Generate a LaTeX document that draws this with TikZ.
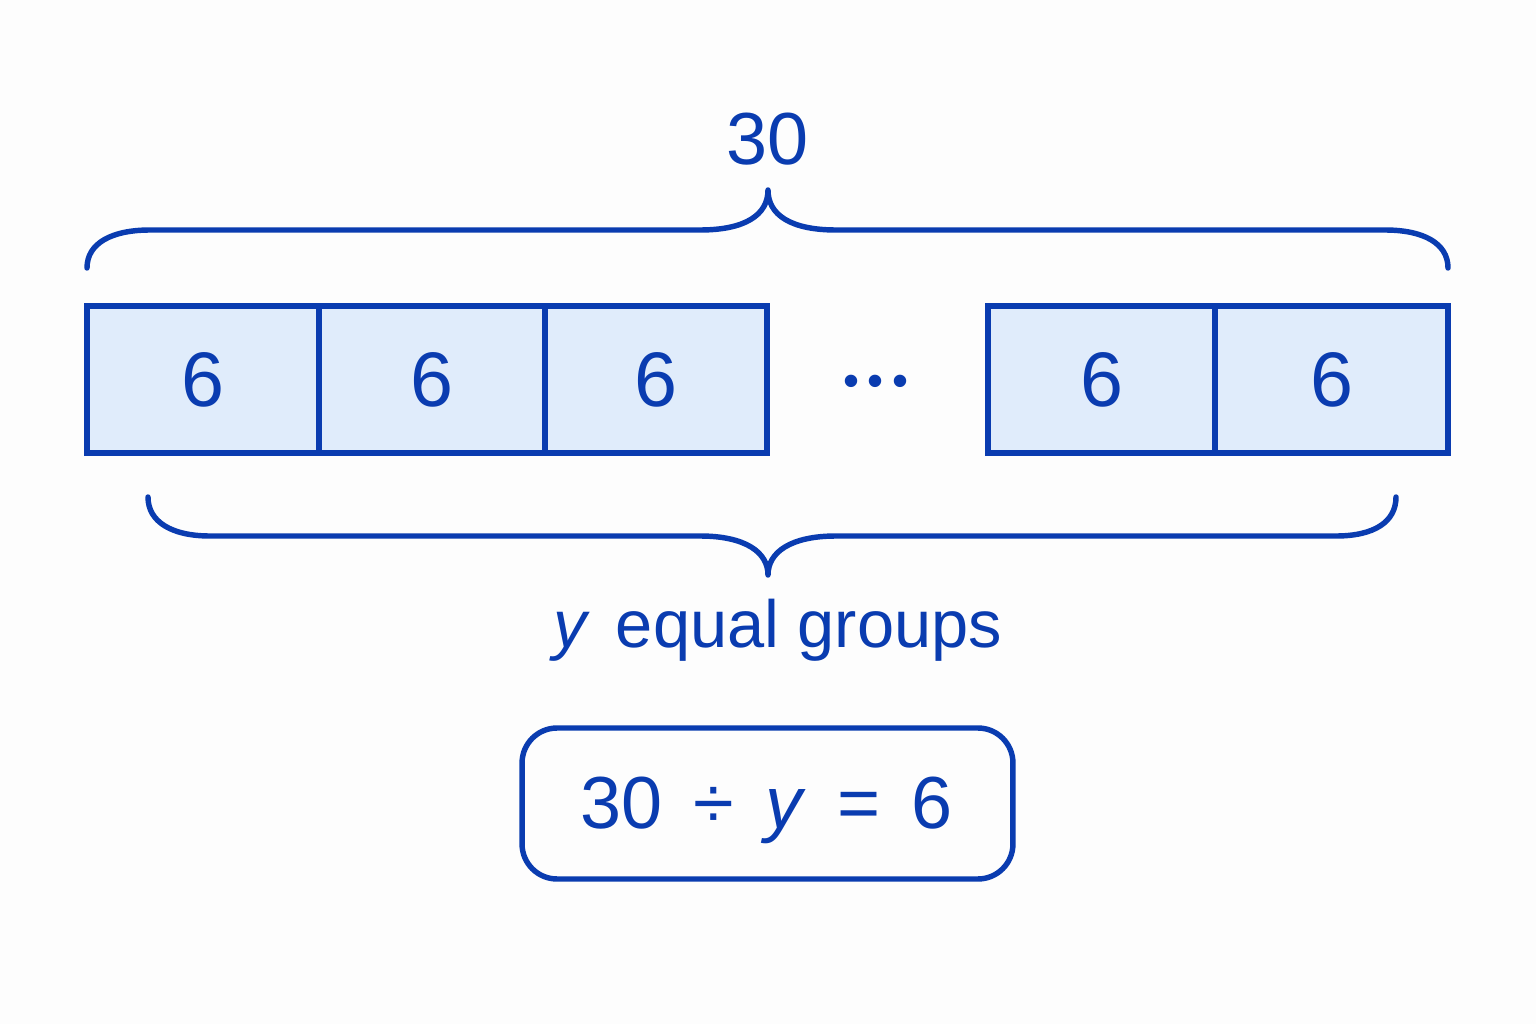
\documentclass[tikz,border=0pt]{standalone}
\usepackage{fontspec}
\setmainfont{Liberation Sans}

\definecolor{ink}{RGB}{10,60,176}
\definecolor{cellfill}{RGB}{224,236,251}
\definecolor{paper}{RGB}{253,253,253}
\newcommand{\eqgap}{\hspace{0.42em}}

\begin{document}
\begin{tikzpicture} [
    x=0.02cm, y=-0.02cm,
    cell/.style     = { rectangle, draw=ink, fill=cellfill, line width=3.1pt,
                        minimum height=2.94cm, inner sep=0pt, text=ink,
                        font=\fontsize{44}{50}\selectfont },
    bigtext/.style  = { text=ink, inner sep=0pt, anchor=base },
    curly/.style    = { draw=ink, line width=3.1pt, line cap=round, line join=round },
    eqbox/.style    = { rectangle, draw=ink, line width=3.1pt, rounded corners=0.7cm,
                        minimum width=9.82cm, minimum height=3.02cm },
  ]

  \useasboundingbox (0,0) rectangle (1536,1024);
  \fill[paper] (0,0) rectangle (1536,1024);

  % the total
  \node[bigtext, font=\fontsize{42}{48}\selectfont] (total) at (768,165) {30};

  % brace over the bar
  \draw[curly] (87,268) .. controls (87,243) and (112,230) .. (150,230) -- (700,230)
    .. controls (745,230) and (768,215) .. (768,190)
    .. controls (768,215) and (791,230) .. (836,230) -- (1385,230)
    .. controls (1423,230) and (1448,243) .. (1448,268);

  % the groups
  \node[cell, minimum width=4.64cm] (g1) at (203,379.5) {6};
  \node[cell, minimum width=4.52cm] (g2) at (432,379.5) {6};
  \node[cell, minimum width=4.44cm] (g3) at (656,379.5) {6};
  \node[bigtext, font=\fontsize{26}{30}\selectfont] (dots) at (876,396.5)
    {•\hspace{5pt}•\hspace{5pt}•};
  \node[cell, minimum width=4.54cm] (g4) at (1101.5,379.5) {6};
  \node[cell, minimum width=4.66cm] (g5) at (1331.5,379.5) {6};

  % brace under the bar
  \draw[curly] (148,497) .. controls (148,522) and (172,536) .. (210,536) -- (700,536)
    .. controls (745,536) and (768,552) .. (768,575)
    .. controls (768,552) and (791,536) .. (836,536) -- (1336,536)
    .. controls (1374,536) and (1396,522) .. (1396,497);

  \node[bigtext, font=\fontsize{38}{44}\selectfont] (groups) at (778,647)
    {\textit{y}\hspace{0.1em} equal groups};

  % the equation
  \node[eqbox] (eq) at (767.5,803.5) {};
  \node[bigtext, font=\fontsize{42}{48}\selectfont] (eqtext) at (766.5,828)
    {30\eqgap÷\eqgap\textit{y}\eqgap=\eqgap6};
\end{tikzpicture}
\end{document}
